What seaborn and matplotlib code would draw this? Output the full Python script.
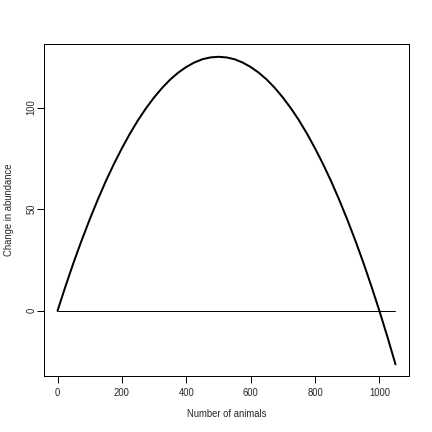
import matplotlib
matplotlib.use("Agg")
import matplotlib.pyplot as plt
import seaborn as sns
import pandas as pd

# Values
animals = [0, 25, 50, 75, 100, 125, 150, 175, 200, 225, 250, 275, 300, 325, 350,
           375, 400, 425, 450, 475, 500, 525, 550, 575, 600, 625, 650, 675, 700,
           725, 750, 775, 800, 825, 850, 875, 900, 925, 950, 975, 1000, 1025, 1050]
change = [0.0, 12.2, 23.8, 34.7, 45.0, 54.7, 63.8, 72.2, 80.0, 87.2, 93.8, 99.7,
          105.0, 109.7, 113.8, 117.2, 120.0, 122.2, 123.8, 124.7, 125.0, 124.7,
          123.8, 122.2, 120.0, 117.2, 113.8, 109.7, 105.0, 99.7, 93.8, 87.2, 80.0,
          72.2, 63.8, 54.7, 45.0, 34.7, 23.8, 12.2, 0.0, -12.8, -26.3]
baseline_x = [0, 1050]
baseline_y = [0, 0]
x_ticks = [0, 200, 400, 600, 800, 1000]
y_ticks = [0, 50, 100]

sns.set_style("ticks")
plt.rcParams["font.family"] = ["Liberation Sans", "DejaVu Sans"]

fig = plt.figure(figsize=(6, 6), dpi=72)
ax = fig.add_axes([44/432, 56/432, 365/432, 332/432])

df = pd.DataFrame({"animals": animals, "change": change})
bl = pd.DataFrame({"x": baseline_x, "y": baseline_y})
sns.lineplot(data=df, x="animals", y="change", ax=ax, color="black", linewidth=2, sort=False)
sns.lineplot(data=bl, x="x", y="y", ax=ax, color="black", linewidth=1, sort=False)

ax.set_xlim(-42, 1092)
ax.set_ylim(-32.05, 131.3)
ax.set_xticks(x_ticks)
ax.set_yticks(y_ticks)
ax.set_xticklabels([str(v) for v in x_ticks], fontsize=9.5)
ax.set_yticklabels([str(v) for v in y_ticks], fontsize=9.5, rotation=90, va="center")
ax.tick_params(axis="both", which="major", direction="out", length=7, width=1,
               color="black", bottom=True, left=True, top=False, right=False)
ax.tick_params(axis="x", pad=5)
ax.tick_params(axis="y", pad=0.5)
for s in ax.spines.values():
    s.set_visible(True)
    s.set_color("black")
    s.set_linewidth(1)

ax.set_xlabel("Number of animals", fontsize=9.5, labelpad=11)
ax.set_ylabel("Change in abundance", fontsize=9.5, labelpad=12)

fig.savefig("out.png", dpi=72, facecolor="white")
